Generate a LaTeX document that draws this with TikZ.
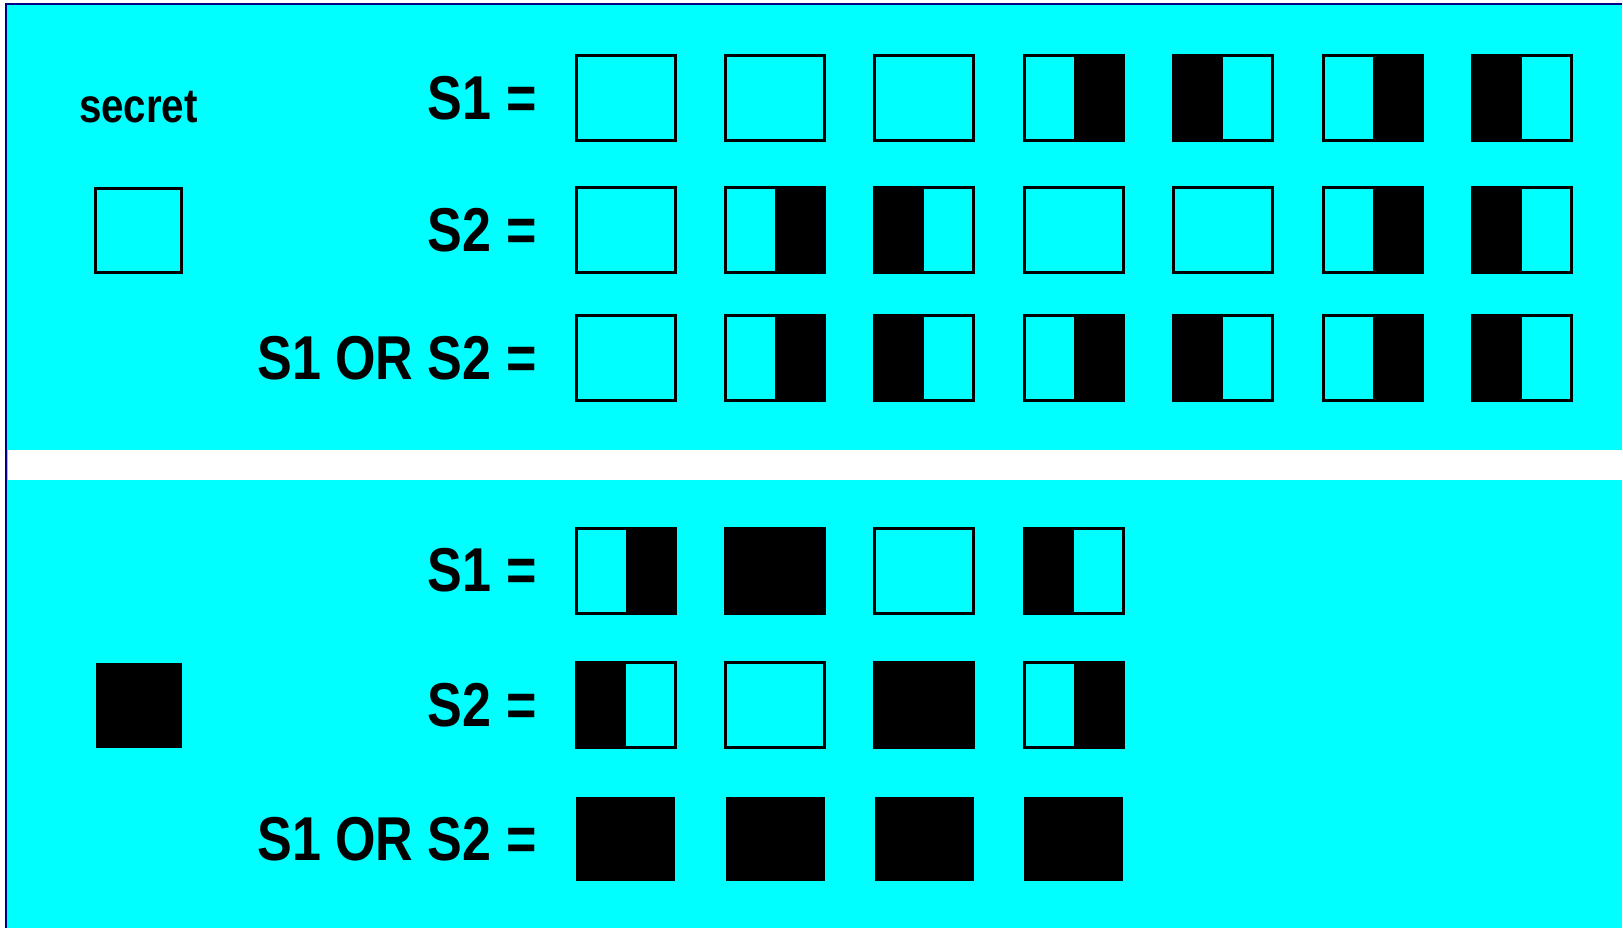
\documentclass[tikz,border=0pt]{standalone}
\usepackage{fontspec}
\newfontfamily\labelfont[FakeStretch=0.84]{Liberation Sans}
\usetikzlibrary{positioning}
\definecolor{frameblue}{RGB}{0,0,128}
\definecolor{bgcyan}{RGB}{0,255,255}

\begin{document}
\begin{tikzpicture}[
    x=1pt, y=-1pt,
    node distance=50.5pt,
    cell/.style={draw, line width=3pt, fill=bgcyan, minimum width=99pt, minimum height=85pt, inner sep=0pt, outer sep=0pt},
    dark/.style={cell, fill=black},
    ink/.style={cell, fill=black, draw=none},
    wb/.style={cell, path picture={\fill[black] (path picture bounding box.north) rectangle (path picture bounding box.south east);}},
    bw/.style={cell, path picture={\fill[black] (path picture bounding box.north west) rectangle (path picture bounding box.south);}},
    lbl/.style={font=\labelfont\bfseries\fontsize{62}{66}\selectfont, inner sep=0pt},
]
% background, frame and divider
\fill[white] (0,0) rectangle (1623,929);
\fill[bgcyan] (6,4) rectangle (1623,929);
\fill[white] (8,450) rectangle (1623,480);
\draw[frameblue, line width=2pt] (6,929) -- (6,4) -- (1623,4);

% secret = white
\node[cell, minimum width=86pt, minimum height=84pt] (wsec) at (138.5,230.5) {};
\node[font=\labelfont\bfseries\fontsize{48}{50}\selectfont, inner sep=0pt, above=65.5pt of wsec] (secret) {secret};

\node[cell] (ws1-1) at (626,98.5) {};
\node[cell, right=of ws1-1] (ws1-2) {};
\node[cell, right=of ws1-2] (ws1-3) {};
\node[wb, right=of ws1-3] (ws1-4) {};
\node[bw, right=of ws1-4] (ws1-5) {};
\node[wb, right=of ws1-5] (ws1-6) {};
\node[bw, right=of ws1-6] (ws1-7) {};
\node[lbl, left=39.5pt of ws1-1] (l-ws1) {S1 =};

\node[cell] (ws2-1) at (626,230.5) {};
\node[wb, right=of ws2-1] (ws2-2) {};
\node[bw, right=of ws2-2] (ws2-3) {};
\node[cell, right=of ws2-3] (ws2-4) {};
\node[cell, right=of ws2-4] (ws2-5) {};
\node[wb, right=of ws2-5] (ws2-6) {};
\node[bw, right=of ws2-6] (ws2-7) {};
\node[lbl, left=39.5pt of ws2-1] (l-ws2) {S2 =};

\node[cell] (wor-1) at (626,358.5) {};
\node[wb, right=of wor-1] (wor-2) {};
\node[bw, right=of wor-2] (wor-3) {};
\node[wb, right=of wor-3] (wor-4) {};
\node[bw, right=of wor-4] (wor-5) {};
\node[wb, right=of wor-5] (wor-6) {};
\node[bw, right=of wor-6] (wor-7) {};
\node[lbl, left=39.5pt of wor-1] (l-wor) {S1 OR S2 =};

% secret = black
\node[ink, minimum width=86pt, minimum height=85pt] (bsec) at (139,705.5) {};

\node[wb] (bs1-1) at (626,571) {};
\node[dark, right=of bs1-1] (bs1-2) {};
\node[cell, right=of bs1-2] (bs1-3) {};
\node[bw, right=of bs1-3] (bs1-4) {};
\node[lbl, left=39.5pt of bs1-1] (l-bs1) {S1 =};

\node[bw] (bs2-1) at (626,705.5) {};
\node[cell, right=of bs2-1] (bs2-2) {};
\node[dark, right=of bs2-2] (bs2-3) {};
\node[wb, right=of bs2-3] (bs2-4) {};
\node[lbl, left=39.5pt of bs2-1] (l-bs2) {S2 =};

\node[ink] (bor-1) at (626,839.5) {};
\node[ink, right=of bor-1] (bor-2) {};
\node[ink, right=of bor-2] (bor-3) {};
\node[ink, right=of bor-3] (bor-4) {};
\node[lbl, left=39.5pt of bor-1] (l-bor) {S1 OR S2 =};
\end{tikzpicture}
\end{document}
